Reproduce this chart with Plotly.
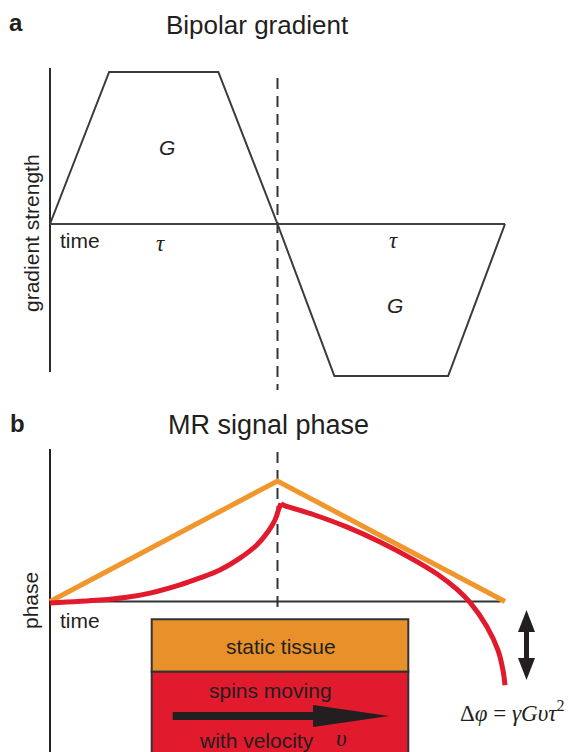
import plotly.graph_objects as go

# ---------------- data ----------------
# Panel a: bipolar gradient waveform (time in units of tau, strength in units of G)
grad_time = [0, 0.26, 0.74, 1.0, 1.25, 1.75, 2.0]
grad_strength = [0, 1, 1, 0, -1, -1, 0]

# Panel b: MR signal phase (time in units of tau)
static_time = [0, 1, 2]
static_phase = [0, 1, 0]

moving_time_1 = [0, 0.22, 0.33, 0.44, 0.571, 0.659, 0.747, 0.835, 0.909, 0.958, 0.989, 1.004, 1.015]
moving_phase_1 = [-0.012, 0.012, 0.033, 0.07, 0.138, 0.196, 0.262, 0.36, 0.469, 0.579, 0.676, 0.759, 0.815]
moving_time_2 = [1.015, 1.025, 1.157, 1.304, 1.451, 1.597, 1.70, 1.788, 1.846, 1.92, 1.969, 1.991, 2.0]
moving_phase_2 = [0.815, 0.801, 0.722, 0.619, 0.494, 0.348, 0.23, 0.102, -0.008, -0.208, -0.404, -0.569, -0.695]

# ---------------- layout helpers ----------------
W, H = 568, 752
def px(x):
    return x / W
def py(y):
    return 1 - y / H

ORANGE_LINE = "#F0962C"
RED = "#E11A2D"
BOX_ORANGE = "#E8912B"
DARK = "#231F20"
SANS = "Liberation Sans, Arial, sans-serif"
SERIF = "Liberation Serif, Times New Roman, serif"

fig = go.Figure()

# gradient waveform
fig.add_trace(go.Scatter(x=grad_time, y=grad_strength, mode="lines",
                         line=dict(color="#3a3a3a", width=2), xaxis="x", yaxis="y",
                         hoverinfo="skip", showlegend=False))
# static tissue phase
fig.add_trace(go.Scatter(x=static_time, y=static_phase, mode="lines",
                         line=dict(color=ORANGE_LINE, width=5), xaxis="x", yaxis="y2",
                         hoverinfo="skip", showlegend=False))
# moving spins phase
fig.add_trace(go.Scatter(x=moving_time_1, y=moving_phase_1, mode="lines",
                         line=dict(color=RED, width=5, shape="spline", smoothing=1.0),
                         xaxis="x", yaxis="y2", hoverinfo="skip", showlegend=False))
fig.add_trace(go.Scatter(x=moving_time_2, y=moving_phase_2, mode="lines",
                         line=dict(color=RED, width=5, shape="spline", smoothing=1.0),
                         xaxis="x", yaxis="y2", hoverinfo="skip", showlegend=False))

shapes = []
# panel a axes
shapes.append(dict(type="line", xref="x", yref="paper", x0=0, x1=0, y0=py(68), y1=py(372),
                   line=dict(color="#2b2b2b", width=2), layer="below"))
shapes.append(dict(type="line", xref="x", yref="y", x0=0, x1=2, y0=0, y1=0,
                   line=dict(color="#444444", width=2), layer="below"))
# panel b axes
shapes.append(dict(type="line", xref="x", yref="paper", x0=0, x1=0, y0=py(449), y1=0,
                   line=dict(color="#222222", width=2), layer="below"))
shapes.append(dict(type="line", xref="x", yref="y2", x0=0, x1=1.98, y0=0, y1=0,
                   line=dict(color="#333333", width=2), layer="below"))
# dashed echo line
for y0, y1 in [(78, 390), (452, 611)]:
    shapes.append(dict(type="line", xref="x", yref="paper", x0=1, x1=1, y0=py(y0), y1=py(y1),
                       line=dict(color="#333333", width=2, dash="11px,7px"), layer="below"))
# tissue box
shapes.append(dict(type="rect", xref="paper", yref="paper", x0=px(151.7), x1=px(408.3),
                   y0=py(619.3), y1=py(671.7), fillcolor=BOX_ORANGE,
                   line=dict(color="#333333", width=2)))
shapes.append(dict(type="rect", xref="paper", yref="paper", x0=px(151.7), x1=px(408.3),
                   y0=py(671.7), y1=py(770), fillcolor=RED,
                   line=dict(color="#333333", width=2)))

def poly(points):
    return "M " + " L ".join(f"{px(x):.5f},{py(y):.5f}" for x, y in points) + " Z"

# velocity arrow
shapes.append(dict(type="path", xref="paper", yref="paper",
                   path=poly([(172.7, 712), (313, 712), (313, 705), (389, 716),
                              (313, 727), (313, 720), (172.7, 720)]),
                   fillcolor=DARK, line=dict(width=0)))
# double-headed arrow
shapes.append(dict(type="path", xref="paper", yref="paper",
                   path=poly([(526.5, 610), (535, 632), (529, 632), (529, 658), (535, 658),
                              (526.5, 680), (518, 658), (524, 658), (524, 632), (518, 632)]),
                   fillcolor=DARK, line=dict(width=0)))

ann = []
def text(x, y, s, size, family=SANS, angle=0, xanchor="center", italic=False, bold=False):
    if italic:
        s = f"<i>{s}</i>"
    if bold:
        s = f"<b>{s}</b>"
    ann.append(dict(x=px(x), y=py(y), xref="paper", yref="paper", text=s, showarrow=False,
                    xanchor=xanchor, yanchor="middle", textangle=angle,
                    font=dict(family=family, size=size, color=DARK)))

text(16, 22, "a", 24, bold=True)
text(257, 25, "Bipolar gradient", 26)
text(17, 423, "b", 24, bold=True)
text(268, 425, "MR signal phase", 27)
text(31, 233, "gradient strength", 21, angle=-90)
text(79.5, 240, "time", 21)
text(167, 148, "G", 21, italic=True)
text(395, 305, "G", 21, italic=True)
text(160, 243, "τ", 23, family=SERIF, italic=True)
text(393, 240, "τ", 23, family=SERIF, italic=True)
text(30, 601, "phase", 21, angle=-90)
text(80, 620, "time", 21)
text(281, 646, "static tissue", 21)
text(270, 690, "spins moving", 21)
text(256, 740, "with velocity", 21)
text(341, 738, "υ", 23, family=SERIF, italic=True)
text(567, 711, "Δ<i>φ</i> = <i>γGυτ</i><sup>2</sup>", 23, family=SERIF, xanchor="right")

fig.update_layout(
    width=W, height=H,
    margin=dict(l=0, r=0, t=0, b=0),
    paper_bgcolor="white", plot_bgcolor="white",
    xaxis=dict(domain=[0, 1], range=[-50 / 227.5, 518 / 227.5], visible=False, fixedrange=True),
    yaxis=dict(domain=[0, 1], range=[(224 - 752) / 152, 224 / 152], visible=False, fixedrange=True),
    yaxis2=dict(domain=[0, 1], range=[(601.5 - 752) / 120.5, 601.5 / 120.5], visible=False,
                fixedrange=True, overlaying="y"),
    shapes=shapes,
    annotations=ann,
    showlegend=False,
)

fig.write_html("out.html", config={"displayModeBar": False},
               post_script="document.body.style.margin='0';")
